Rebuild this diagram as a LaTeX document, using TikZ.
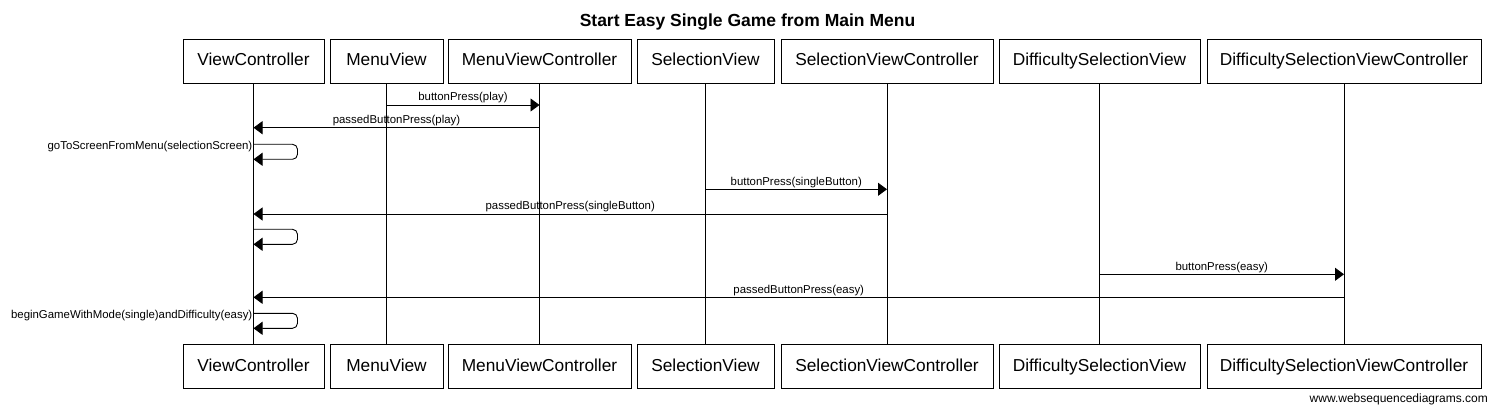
\documentclass[tikz,border=0pt]{standalone}
\usepackage{fontspec}
\setmainfont{Liberation Sans}
\usetikzlibrary{arrows.meta}
\begin{document}
\begin{tikzpicture}[x=1pt,y=-1pt,
  part/.style={draw, line width=0.9pt, minimum height=44pt, inner sep=0pt, text height=13pt, text depth=3.6pt, font=\fontsize{17.3}{20}\selectfont},
  life/.style={line width=0.9pt},
  msg/.style={line width=0.9pt, -{Triangle[length=9pt,width=13pt]}},
  lbl/.style={font=\fontsize{11.4}{13}\selectfont, anchor=base, yshift=4pt, inner sep=0pt},
  selflbl/.style={font=\fontsize{11.4}{13}\selectfont, anchor=east, inner sep=1pt, yshift=-2.5pt}]
\useasboundingbox (0,0) rectangle (1491,406);
\fill[white] (0,0) rectangle (1491,406);
% title
\node[font=\bfseries\fontsize{17.5}{20}\selectfont, anchor=base] (title) at (747.5,26.7) {Start Easy Single Game from Main Menu};
% participants top
\node[part, minimum width=141pt] (t1) at (253.5,61.3) {ViewController};
\node[part, minimum width=113pt] (t2) at (386.5,61.3) {MenuView};
\node[part, minimum width=183pt] (t3) at (539.5,61.3) {MenuViewController};
\node[part, minimum width=137pt] (t4) at (705.5,61.3) {SelectionView};
\node[part, minimum width=212pt] (t5) at (887,61.3) {SelectionViewController};
\node[part, minimum width=201pt] (t6) at (1099.5,61.3) {DifficultySelectionView};
\node[part, minimum width=274pt] (t7) at (1344,61.3) {DifficultySelectionViewController};
% participants bottom
\node[part, minimum width=141pt] (b1) at (253.5,366.3) {ViewController};
\node[part, minimum width=113pt] (b2) at (386.5,366.3) {MenuView};
\node[part, minimum width=183pt] (b3) at (539.5,366.3) {MenuViewController};
\node[part, minimum width=137pt] (b4) at (705.5,366.3) {SelectionView};
\node[part, minimum width=212pt] (b5) at (887,366.3) {SelectionViewController};
\node[part, minimum width=201pt] (b6) at (1099.5,366.3) {DifficultySelectionView};
\node[part, minimum width=274pt] (b7) at (1344,366.3) {DifficultySelectionViewController};
% lifelines
\foreach \i in {1,...,7} { \draw[life] (t\i) -- (b\i); }
% message anchor points
\coordinate (m1a) at (t2 |- 0,105);   \coordinate (m1b) at (t3 |- 0,105);
\coordinate (m2a) at (t3 |- 0,127.7); \coordinate (m2b) at (t1 |- 0,127.7);
\coordinate (l1a) at (t1 |- 0,144.3); \coordinate (l1b) at (t1 |- 0,159.3);
\coordinate (m4a) at (t4 |- 0,189.3); \coordinate (m4b) at (t5 |- 0,189.3);
\coordinate (m5a) at (t5 |- 0,214);   \coordinate (m5b) at (t1 |- 0,214);
\coordinate (l2a) at (t1 |- 0,229.3); \coordinate (l2b) at (t1 |- 0,244.3);
\coordinate (m7a) at (t6 |- 0,274.3); \coordinate (m7b) at (t7 |- 0,274.3);
\coordinate (m8a) at (t7 |- 0,297.3); \coordinate (m8b) at (t1 |- 0,297.3);
\coordinate (l3a) at (t1 |- 0,313.3); \coordinate (l3b) at (t1 |- 0,328.3);
% messages
\draw[msg] (m1a) -- (m1b) node[lbl, midway] (lab1) {buttonPress(play)};
\draw[msg] (m2a) -- (m2b) node[lbl, midway] (lab2) {passedButtonPress(play)};
\draw[msg, rounded corners=5pt] (l1a) -- ++(44,0) -- ++(0,15) -- (l1b);
\node[selflbl] (lab3) at (l1a) {goToScreenFromMenu(selectionScreen)};
\draw[msg] (m4a) -- (m4b) node[lbl, midway] (lab4) {buttonPress(singleButton)};
\draw[msg] (m5a) -- (m5b) node[lbl, midway] (lab5) {passedButtonPress(singleButton)};
\draw[msg, rounded corners=5pt] (l2a) -- ++(44,0) -- ++(0,15) -- (l2b);
\draw[msg] (m7a) -- (m7b) node[lbl, midway] (lab7) {buttonPress(easy)};
\draw[msg] (m8a) -- (m8b) node[lbl, midway] (lab8) {passedButtonPress(easy)};
\draw[msg, rounded corners=5pt] (l3a) -- ++(44,0) -- ++(0,15) -- (l3b);
\node[selflbl] (lab9) at (l3a) {beginGameWithMode(single)andDifficulty(easy)};
% footer
\node[font=\fontsize{12}{14}\selectfont, anchor=base east, inner sep=0pt] (wsd) at (1488,402) {www.websequencediagrams.com};
\end{tikzpicture}
\end{document}
